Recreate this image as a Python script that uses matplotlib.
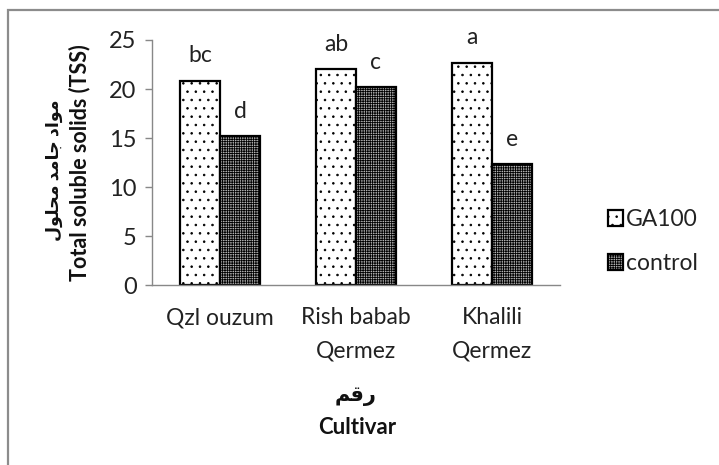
import matplotlib
matplotlib.use("Agg")
import matplotlib.pyplot as plt
from matplotlib.patches import Rectangle
import numpy as np

plt.rcParams['font.family'] = ['Lato', 'DejaVu Sans']
plt.rcParams['hatch.linewidth'] = 0.6

# data
cultivars = ['Qzl ouzum', 'Rish babab\nQermez', 'Khalili\nQermez']
ga100 = [20.85, 22.0, 22.7]
control = [15.2, 20.2, 12.3]
ga_letters = ['bc', 'ab', 'a']
ctrl_letters = ['d', 'c', 'e']
series_names = ['GA100', 'control']

# arabic text, shaped with presentation forms and reversed for LTR drawing
ylab_ar = '\uFEE3\uFEEE\uFE8D\uFEA9 \uFE9F\uFE8E\uFEE3\uFEAA \uFEE3\uFEA4\uFEE0\uFEEE\uFEDD'[::-1]
xlab_ar = '\uFEAD\uFED7\uFEE2'[::-1]

W, H = 719, 465
fig = plt.figure(figsize=(W / 100, H / 100), dpi=100)
ax = fig.add_axes([152 / W, 1 - 285 / H, (560 - 152) / W, (285 - 40) / H])

x = np.arange(len(cultivars))
bw = 0.294
b1 = ax.bar(x - bw / 2, ga100, bw, color='white', edgecolor='black', linewidth=1.6,
            hatch='..', label=series_names[0])
b2 = ax.bar(x + bw / 2, control, bw, color='#b4b4b4', edgecolor='black', linewidth=1.6,
            hatch='+++++++', label=series_names[1])

for rect, lab in zip(b1, ga_letters):
    ax.annotate(lab, (rect.get_x() + rect.get_width() / 2, rect.get_height()),
                xytext=(0, 18), textcoords='offset points', ha='center', va='center',
                fontsize=16.5, color='#222222')
for rect, lab in zip(b2, ctrl_letters):
    ax.annotate(lab, (rect.get_x() + rect.get_width() / 2, rect.get_height()),
                xytext=(0, 18), textcoords='offset points', ha='center', va='center',
                fontsize=16.5, color='#222222')

ax.set_xlim(-0.5, 2.5)
ax.set_ylim(0, 25)
ax.set_yticks([0, 5, 10, 15, 20, 25])
ax.set_xticks(x)
ax.set_xticklabels(cultivars, fontsize=16.5, color='#222222', linespacing=1.75)
ax.tick_params(axis='x', length=0, pad=16)
ax.tick_params(axis='y', labelsize=17, labelcolor='#222222', color='#888888',
               length=5, width=1, pad=6)
for s in ['top', 'right']:
    ax.spines[s].set_visible(False)
for s in ['left', 'bottom']:
    ax.spines[s].set_color('#888888')
    ax.spines[s].set_linewidth(1)

# y axis title: two lines, arabic outside
fig.text(54 / W, 1 - 170 / H, ylab_ar, rotation=90, ha='center', va='center',
         fontsize=12.5, fontweight='bold', color='#111111')
fig.text(80 / W, 1 - 163 / H, 'Total soluble solids (TSS)', rotation=90, ha='center',
         va='center', fontsize=15.5, fontweight='bold', color='#111111')

fig.text(356 / W, 1 - 396 / H, xlab_ar, ha='center', va='center', fontsize=15,
         fontweight='bold', color='#111111')
fig.text(357 / W, 1 - 427 / H, 'Cultivar', ha='center', va='center', fontsize=16,
         fontweight='bold', color='#111111')

leg = fig.legend(handles=[b1, b2], loc='upper left', bbox_to_anchor=(608 / W, 1 - 209 / H),
                 frameon=False, fontsize=16.5, handlelength=0.65, handleheight=0.65,
                 handletextpad=0.15, labelspacing=1.0, borderpad=0, borderaxespad=0)
for t in leg.get_texts():
    t.set_color('#222222')

# chart area border
fig.patches.append(Rectangle((8 / W, -0.05), 1.0, 1 - 10 / H + 0.05, transform=fig.transFigure,
                             fill=False, edgecolor='#8c8c8c', linewidth=1.6))

fig.savefig('out.png', dpi=100)
